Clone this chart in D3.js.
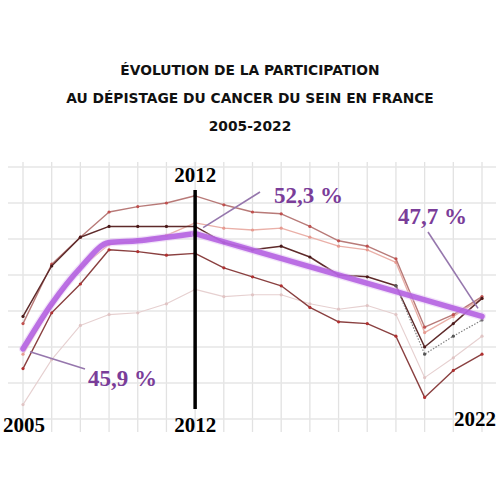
<!DOCTYPE html>
<html>
<head>
<meta charset="utf-8">
<script src="https://cdn.jsdelivr.net/npm/d3@7"></script>
<style>
  body { margin: 0; background: #fff; }
</style>
</head>
<body>
<svg id="chart"></svg>
<script>
// Size of the picture
var w = 500,
    h = 500;

// Campaign labels (x positions), only some are printed
var periods = ["2005", "2007", "2008", "2009", "2010", "2011", "2012", "2013", "2014",
               "2015", "2016", "2017", "2018", "2019", "2020", "2021", "2022"];
var shownTicks = ["2005", "2012", "2022"];

// Participation rates (%)
var topLine    = [47.3, 50.6, 52.1, 53.5, 53.8, 54.0, 54.4, 53.9, 53.5, 53.4, 52.7, 51.9, 51.6, 50.9, 47.1, 47.8, 48.8];
var darkLine   = [47.7, 50.5, 52.1, 52.7, 52.7, 52.7, 52.7, 51.8, 51.4, 51.6, 51.0, 50.0, 49.9, 49.4, 46.0, 47.3, 48.7];
var lowLine    = [44.8, 47.9, 49.5, 51.4, 51.3, 51.1, 51.2, 50.4, 49.9, 49.4, 48.2, 47.4, 47.3, 46.6, 43.2, 44.7, 45.6];
var faintLine  = [42.8, 45.3, 47.2, 47.8, 47.9, 48.4, 49.2, 48.8, 48.9, 48.9, 48.4, 48.1, 48.3, 47.8, 44.3, 45.4, 46.6];
var pinkLine   = [45.6, 48.3, 50.4, 51.7, 51.9, 52.2, 52.9, 52.6, 52.5, 52.6, 52.1, 51.6, 51.4, 50.7, 46.8, 47.7, 48.7];
var dottedLine = [null, null, null, null, null, null, null, null, null, null, null, null, null, 49.4, 45.6, 46.6, 47.5];
// national rate: yearly up to 2012, then straight to 2022
var nationalEarly = [45.9, 48.4, 50.4, 51.8, 51.9, 52.1, 52.3];
var nationalLate  = [{ p: "2012", v: 52.3 }, { p: "2022", v: 47.7 }];

var gridValues = [42, 44, 46, 48, 50, 52, 54, 56];

var svg = d3.select("#chart")
    .attr("width", w)
    .attr("height", h)
    .style("font-family", "'Liberation Serif', serif");

var x = d3.scalePoint()
    .domain(periods)
    .range([23, 482]);

var y = d3.scaleLinear()
    .domain([40, 60])
    .range([455, 95]);

// ==================== title ====================
var title = ["ÉVOLUTION DE LA PARTICIPATION",
             "AU DÉPISTAGE DU CANCER DU SEIN EN FRANCE",
             "2005-2022"];
svg.append("g")
    .selectAll("text")
    .data(title)
    .join("text")
    .attr("x", 250)
    .attr("y", function(d, i) { return 75 + i * 28; })
    .attr("text-anchor", "middle")
    .attr("font-family", "'DejaVu Sans', sans-serif")
    .attr("font-weight", "bold")
    .attr("font-size", "13.8px")
    .attr("fill", "#111")
    .text(function(d) { return d; });

// ==================== grid ====================
var grid = svg.append("g").attr("class", "grid");
grid.selectAll("line.v")
    .data(periods)
    .join("line")
    .attr("class", "v")
    .attr("x1", function(d) { return x(d); })
    .attr("x2", function(d) { return x(d); })
    .attr("y1", 162)
    .attr("y2", 432)
    .attr("stroke", "#e2e2e2")
    .attr("stroke-width", 1.3);
grid.selectAll("line.h")
    .data(gridValues)
    .join("line")
    .attr("class", "h")
    .attr("x1", 8)
    .attr("x2", 496)
    .attr("y1", function(d) { return y(d); })
    .attr("y2", function(d) { return y(d); })
    .attr("stroke", "#e6e6e6")
    .attr("stroke-width", 1.3);

// ==================== lines ====================
var series = [
    { values: faintLine,  color: "#e6d0d0", width: 1.1, dot: "#e0c4c4" },
    { values: pinkLine,   color: "#eab0a8", width: 1.3, dot: "#e69a90" },
    { values: topLine,    color: "#b87a78", width: 1.4, dot: "#c0504e" },
    { values: lowLine,    color: "#8a4040", width: 1.4, dot: "#b03030" },
    { values: darkLine,   color: "#5e2a2a", width: 1.5, dot: "#4a1a1a" },
    { values: dottedLine, color: "#808080", width: 1.2, dot: "#555", dash: "1.5,1.5" }
];

var line = d3.line()
    .defined(function(d) { return d != null; })
    .x(function(d, i) { return x(periods[i]); })
    .y(function(d) { return y(d); });

series.forEach(function(s) {
    var g = svg.append("g");
    g.append("path")
	.datum(s.values)
	.attr("fill", "none")
	.attr("stroke", s.color)
	.attr("stroke-width", s.width)
	.attr("stroke-linejoin", "round")
	.attr("stroke-dasharray", s.dash || null)
	.attr("d", line);
    g.selectAll("circle")
	.data(s.values.map(function(v, i) { return { v: v, p: periods[i] }; })
	      .filter(function(d) { return d.v != null; }))
	.join("circle")
	.attr("cx", function(d) { return x(d.p); })
	.attr("cy", function(d) { return y(d.v); })
	.attr("r", 1.6)
	.attr("fill", s.dot);
});

// national rate, thick purple: smooth before 2012, straight after
var early = nationalEarly.map(function(v, i) { return { v: v, p: periods[i] }; });

var smooth = d3.line()
    .curve(d3.curveMonotoneX)
    .x(function(d) { return x(d.p); })
    .y(function(d) { return y(d.v); });
var straight = d3.line()
    .x(function(d) { return x(d.p); })
    .y(function(d) { return y(d.v); });

var nat = svg.append("g").attr("class", "national");
[[early, smooth], [nationalLate, straight]].forEach(function(part) {
    nat.append("path")
	.datum(part[0])
	.attr("fill", "none")
	.attr("stroke", "#e2c2f2")
	.attr("stroke-width", 8)
	.attr("stroke-opacity", 0.45)
	.attr("stroke-linecap", "round")
	.attr("d", part[1]);
    nat.append("path")
	.datum(part[0])
	.attr("fill", "none")
	.attr("stroke", "#b35fe0")
	.attr("stroke-width", 5.5)
	.attr("stroke-opacity", 0.88)
	.attr("stroke-linejoin", "round")
	.attr("stroke-linecap", "round")
	.attr("d", part[1]);
});

// ==================== 2012 marker ====================
svg.append("line")
    .attr("x1", x("2012"))
    .attr("x2", x("2012"))
    .attr("y1", 190)
    .attr("y2", 409)
    .attr("stroke", "#000")
    .attr("stroke-width", 3.5);

svg.append("text")
    .attr("x", x("2012"))
    .attr("y", 182)
    .attr("text-anchor", "middle")
    .attr("font-weight", "bold")
    .attr("font-size", "21px")
    .text("2012");

// x labels
svg.append("g")
    .selectAll("text")
    .data(shownTicks)
    .join("text")
    .attr("x", function(d) { return d === "2005" ? 3 : (d === "2022" ? 496 : x(d)); })
    .attr("y", function(d) { return d === "2022" ? 426 : 432; })
    .attr("text-anchor", function(d) { return d === "2005" ? "start" : (d === "2022" ? "end" : "middle"); })
    .attr("font-weight", "bold")
    .attr("font-size", "21px")
    .attr("fill", "#000")
    .text(function(d) { return d; });

// ==================== annotations ====================
var callouts = [
    { p: "2005", v: 45.9, from: [7, 3],   to: [85, 369],  text: [88, 386] },
    { p: "2012", v: 52.3, from: [8, -6],  to: [260, 192], text: [274, 203] },
    { p: "2022", v: 47.7, from: [-4, -8], to: [428, 232], text: [398, 224] }
];

callouts.forEach(function(c) {
    svg.append("line")
	.attr("x1", x(c.p) + c.from[0])
	.attr("y1", y(c.v) + c.from[1])
	.attr("x2", c.to[0])
	.attr("y2", c.to[1])
	.attr("stroke", "#9677ad")
	.attr("stroke-width", 1.6);
    svg.append("text")
	.attr("x", c.text[0])
	.attr("y", c.text[1])
	.attr("font-weight", "bold")
	.attr("font-size", "23px")
	.attr("fill", "#7a3d99")
	.text(String(c.v).replace(".", ",") + " %");
});
</script>
</body>
</html>
